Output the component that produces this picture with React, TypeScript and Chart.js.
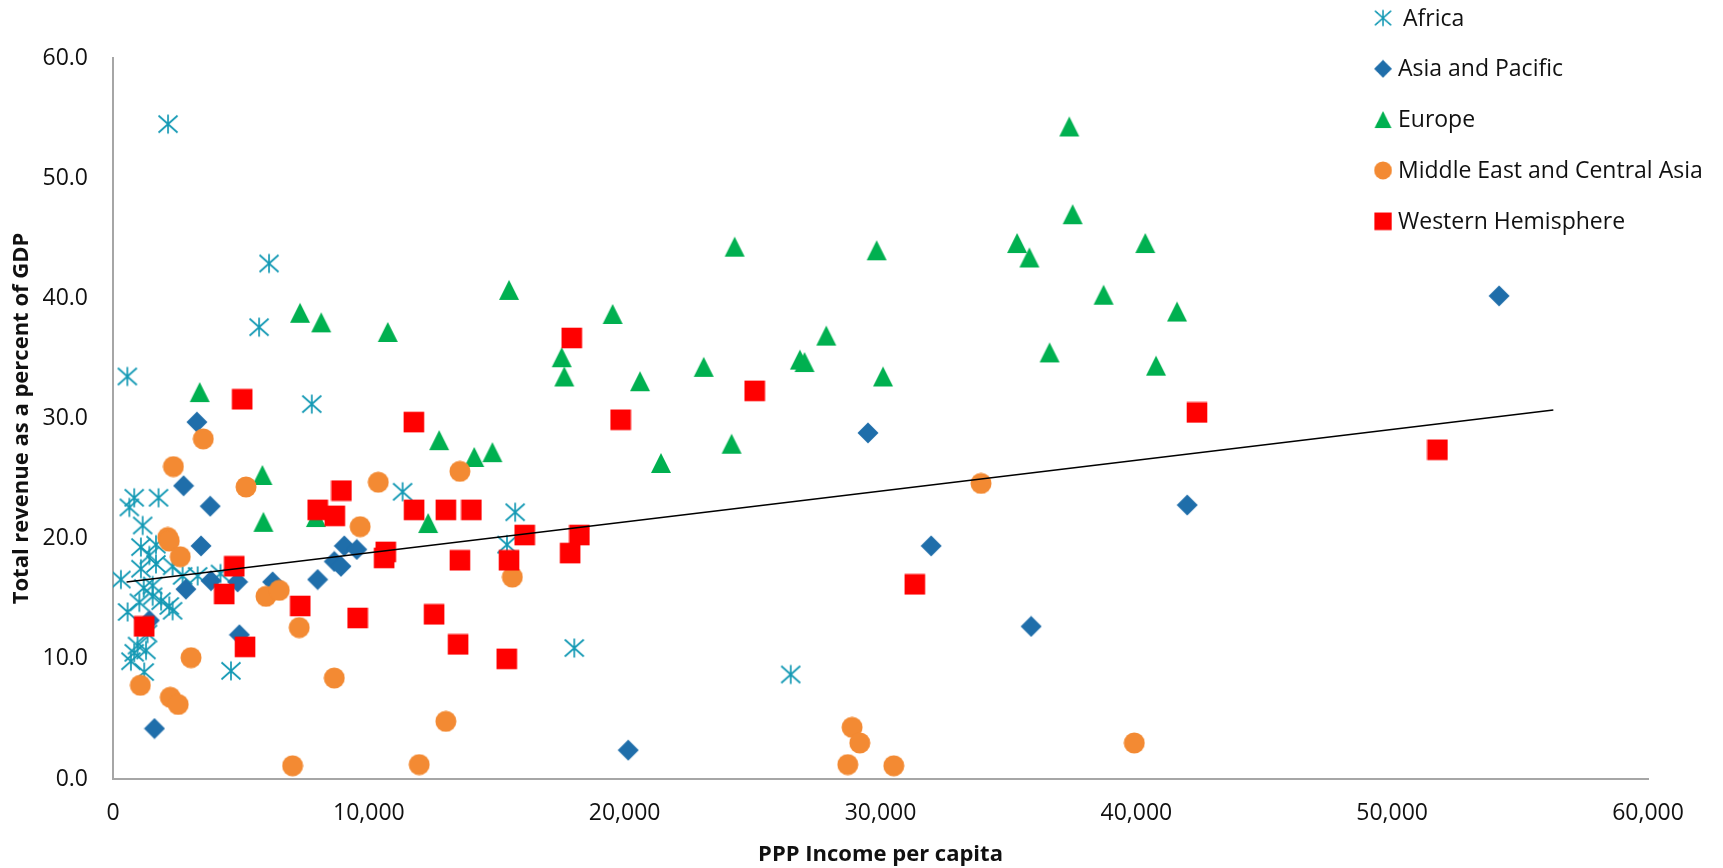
import React, { useEffect, useRef } from 'react';
import { Chart, registerables } from 'chart.js';

Chart.register(...registerables);

const SERIES_NAMES = ['Africa', 'Asia and Pacific', 'Europe', 'Middle East and Central Asia', 'Western Hemisphere'];
const SERIES_COLORS = ['#1399B4', '#1F6EAA', '#00B050', '#F38A33', '#FF0000'];
const SERIES_MARKERS = ['asterisk', 'diamond', 'triangle', 'circle', 'square'];

const africaX = [2150, 560, 6100, 5710, 7770, 11320, 15720, 15400, 18030, 26490, 4610, 830, 640, 1780, 1160, 1090, 1680, 1680, 1090, 310, 2720, 3310, 1550, 1030, 1550, 1880, 570, 2330, 2200, 1350, 960, 1290, 700, 1220, 4200, 1420, 2330, 1200, 830];
const africaY = [54.5, 33.5, 42.9, 37.6, 31.2, 23.9, 22.2, 19.5, 10.9, 8.7, 9.0, 23.4, 22.6, 23.4, 21.1, 19.3, 19.5, 17.9, 17.5, 16.6, 16.9, 16.9, 16.1, 14.7, 15.2, 14.8, 13.9, 14.0, 14.4, 12.1, 11.1, 10.7, 9.8, 8.9, 17.1, 18.6, 17.7, 15.9, 10.5];

const asiaX = [3280, 2760, 3800, 3440, 2850, 3830, 4870, 6240, 8000, 8650, 8910, 9040, 9530, 4940, 1620, 1420, 20140, 29510, 31980, 35890, 41990, 54180];
const asiaY = [29.7, 24.4, 22.7, 19.4, 15.8, 16.5, 16.4, 16.4, 16.6, 18.1, 17.7, 19.4, 19.1, 12.0, 4.2, 13.2, 2.4, 28.8, 19.4, 12.7, 22.8, 40.2];

const europeX = [3390, 5840, 5880, 7310, 8140, 7930, 10740, 12750, 12320, 14120, 14830, 15480, 17540, 17640, 19530, 20600, 21420, 23090, 24180, 24300, 26850, 27030, 27880, 29850, 30100, 35340, 35820, 37510, 40350, 38720, 41590, 36610, 40770, 37380];
const europeY = [32.2, 25.3, 21.4, 38.8, 38.0, 21.8, 37.2, 28.2, 21.3, 26.8, 27.2, 40.7, 35.1, 33.5, 38.7, 33.1, 26.3, 34.3, 27.9, 44.3, 34.9, 34.7, 36.9, 44.0, 33.5, 44.6, 43.4, 47.0, 44.6, 40.3, 38.9, 35.5, 34.4, 54.3];

const meX = [3530, 2360, 5200, 10370, 13560, 9660, 2140, 2200, 2630, 5980, 6500, 7280, 3050, 1070, 2240, 2550, 8650, 13010, 7020, 11970, 15610, 28720, 30520, 28890, 29190, 33930, 39920];
const meY = [28.3, 26.0, 24.3, 24.7, 25.6, 21.0, 20.1, 19.8, 18.5, 15.2, 15.7, 12.6, 10.1, 7.8, 6.8, 6.2, 8.4, 4.8, 1.1, 1.2, 16.8, 1.2, 1.1, 4.3, 3.0, 24.6, 3.0];

const whX = [5050, 11760, 8930, 8000, 8670, 11770, 13010, 14010, 10660, 10600, 13560, 4740, 4350, 7320, 9560, 12550, 13490, 1220, 5160, 17930, 19840, 25080, 16090, 18230, 17870, 15480, 15390, 51770, 42370, 31340];
const whY = [31.6, 29.7, 24.0, 22.4, 21.9, 22.4, 22.4, 22.4, 18.9, 18.4, 18.2, 17.7, 15.4, 14.4, 13.4, 13.7, 11.2, 12.7, 11.0, 36.7, 29.9, 32.3, 20.3, 20.3, 18.8, 18.2, 10.0, 27.4, 30.5, 16.2];

const trendX = [530, 56300];
const trendY = [16.4, 30.7];

const xTicks = [0, 10000, 20000, 30000, 40000, 50000, 60000];
const yTicks = [0, 10, 20, 30, 40, 50, 60];

const X_TITLE = 'PPP Income per capita';
const Y_TITLE = 'Total revenue as a percent of GDP';
const FONT = '"Open Sans", "DejaVu Sans", sans-serif';

function makeMarker(kind: string, color: string): HTMLCanvasElement {
  const s = 22;
  const c = document.createElement('canvas');
  c.width = s;
  c.height = s;
  const g = c.getContext('2d') as CanvasRenderingContext2D;
  g.fillStyle = color;
  g.strokeStyle = color;
  const m = s / 2;
  g.beginPath();
  if (kind === 'asterisk') {
    g.lineWidth = 1.7;
    g.moveTo(m, 1.5);
    g.lineTo(m, s - 1.5);
    g.moveTo(1.5, 2.5);
    g.lineTo(s - 1.5, s - 2.5);
    g.moveTo(s - 1.5, 2.5);
    g.lineTo(1.5, s - 2.5);
    g.stroke();
  } else if (kind === 'diamond') {
    g.moveTo(m, 0.5);
    g.lineTo(s - 0.5, m);
    g.lineTo(m, s - 0.5);
    g.lineTo(0.5, m);
    g.closePath();
    g.fill();
  } else if (kind === 'triangle') {
    g.moveTo(m, 1);
    g.lineTo(s - 1, s - 1);
    g.lineTo(1, s - 1);
    g.closePath();
    g.fill();
  } else if (kind === 'circle') {
    g.arc(m, m, 10.5, 0, Math.PI * 2);
    g.fill();
  } else {
    g.rect(0.7, 0.7, s - 1.4, s - 1.4);
    g.fill();
  }
  return c;
}

const legendPlugin = {
  id: 'sideLegend',
  afterDraw(chart: any) {
    const ctx = chart.ctx as CanvasRenderingContext2D;
    ctx.save();
    ctx.font = `23px ${FONT}`;
    ctx.fillStyle = '#111111';
    ctx.textBaseline = 'middle';
    ctx.textAlign = 'left';
    const items = chart.data.datasets.filter((d: any) => SERIES_NAMES.includes(d.label));
    items.sort((a: any, b: any) => SERIES_NAMES.indexOf(a.label) - SERIES_NAMES.indexOf(b.label));
    items.forEach((d: any, i: number) => {
      const cy = 18 + i * 50.8;
      const img = d.pointStyle as HTMLCanvasElement;
      const w = img.width * 0.85;
      const h = img.height * 0.85;
      ctx.drawImage(img, 1383 - w / 2, cy - h / 2, w, h);
      ctx.fillText(d.label, i === 0 ? 1403 : 1398, cy + 1);
    });
    ctx.restore();
  },
};

function pts(xs: number[], ys: number[]) {
  return xs.map((x, i) => ({ x, y: ys[i] }));
}

export default function App() {
  const ref = useRef<HTMLCanvasElement | null>(null);

  useEffect(() => {
    document.body.style.margin = '0';
    const canvas = ref.current;
    if (!canvas) return;
    const seriesX = [africaX, asiaX, europeX, meX, whX];
    const seriesY = [africaY, asiaY, europeY, meY, whY];
    const datasets: any[] = SERIES_NAMES.map((name, i) => ({
      label: name,
      data: pts(seriesX[i], seriesY[i]),
      pointStyle: makeMarker(SERIES_MARKERS[i], SERIES_COLORS[i]),
      pointRadius: 10,
      pointHoverRadius: 10,
      backgroundColor: SERIES_COLORS[i],
      borderColor: SERIES_COLORS[i],
      order: 5 - i,
    }));
    datasets.push({
      label: 'Trend',
      data: pts(trendX, trendY),
      showLine: true,
      borderColor: '#000000',
      borderWidth: 1.5,
      pointRadius: 0,
      pointHoverRadius: 0,
      fill: false,
      order: 0,
    });

    const tickFont = { family: FONT, size: 23 };
    const titleFont = { family: FONT, size: 22, weight: 'bold' as const };

    const chart = new Chart(canvas, {
      type: 'scatter',
      data: { datasets },
      plugins: [legendPlugin],
      options: {
        responsive: false,
        animation: false,
        events: [],
        layout: { padding: { top: 58, right: 75, left: 0, bottom: 0 } },
        plugins: { legend: { display: false }, tooltip: { enabled: false } },
        scales: {
          x: {
            type: 'linear',
            min: 0,
            max: 60000,
            afterBuildTicks: (s: any) => {
              s.ticks = xTicks.map((v) => ({ value: v }));
            },
            afterFit: (s: any) => {
              s.height = 89;
            },
            grid: { display: false, drawTicks: false },
            border: { display: true, color: '#A6A6A6', width: 2 },
            ticks: {
              padding: 21,
              font: tickFont,
              color: '#111111',
              maxRotation: 0,
              autoSkip: false,
              callback: (v: any) => Number(v).toLocaleString('en-US'),
            },
            title: {
              display: true,
              text: X_TITLE,
              font: titleFont,
              color: '#111111',
              padding: { top: 0, bottom: 0 },
            },
          },
          y: {
            type: 'linear',
            min: 0,
            max: 60,
            afterBuildTicks: (s: any) => {
              s.ticks = yTicks.map((v) => ({ value: v }));
            },
            afterFit: (s: any) => {
              s.width = 113;
            },
            grid: { display: false, drawTicks: false },
            border: { display: true, color: '#A6A6A6', width: 2 },
            ticks: {
              padding: 25,
              font: tickFont,
              color: '#111111',
              autoSkip: false,
              callback: (v: any) => Number(v).toFixed(1),
            },
            title: {
              display: true,
              text: Y_TITLE,
              font: titleFont,
              color: '#111111',
              padding: { top: 9, bottom: 0 },
            },
          },
        },
      },
    });
    return () => chart.destroy();
  }, []);

  return (
    <div style={{ width: 1723, height: 868, background: '#ffffff' }}>
      <canvas ref={ref} width={1723} height={868} style={{ display: 'block' }} />
    </div>
  );
}
